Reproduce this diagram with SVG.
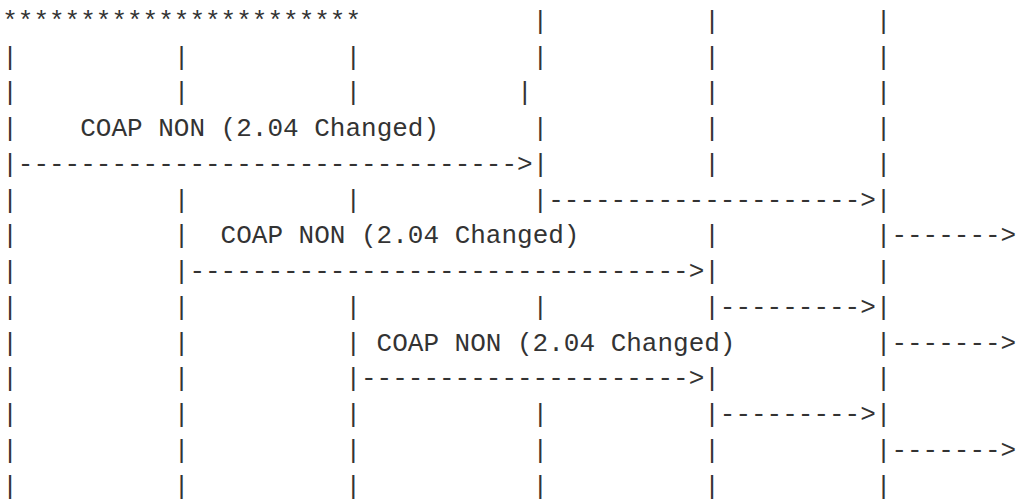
<svg xmlns="http://www.w3.org/2000/svg" width="1021" height="500" viewBox="0 0 1021 500">
<style>
  text { font-family: "Liberation Mono", "DejaVu Sans Mono", monospace; font-size: 26px; fill: #333333; }
</style>
<rect x="0" y="0" width="1021" height="500" fill="#ffffff"/>
<g id="header">
<text y="28.8"><tspan x="2.2">***********************</tspan><tspan x="532.6">|</tspan><tspan x="704.2">|</tspan><tspan x="875.8">|</tspan></text>
</g>
<g id="lifelines-and-messages">
<text y="64.6"><tspan x="2.2">|</tspan><tspan x="173.8">|</tspan><tspan x="345.4">|</tspan><tspan x="532.6">|</tspan><tspan x="704.2">|</tspan><tspan x="875.8">|</tspan></text>
<text y="100.3"><tspan x="2.2">|</tspan><tspan x="173.8">|</tspan><tspan x="345.4">|</tspan><tspan x="517">|</tspan><tspan x="704.2">|</tspan><tspan x="875.8">|</tspan></text>
<text y="136.1"><tspan x="2.2">|</tspan><tspan x="80.2">COAP NON (2.04 Changed)</tspan><tspan x="532.6">|</tspan><tspan x="704.2">|</tspan><tspan x="875.8">|</tspan></text>
<text y="171.8"><tspan x="2.2">|--------------------------------&gt;|</tspan><tspan x="704.2">|</tspan><tspan x="875.8">|</tspan></text>
<text y="207.6"><tspan x="2.2">|</tspan><tspan x="173.8">|</tspan><tspan x="345.4">|</tspan><tspan x="532.6">|--------------------&gt;|</tspan></text>
<text y="243.3"><tspan x="2.2">|</tspan><tspan x="173.8">|</tspan><tspan x="220.6">COAP NON (2.04 Changed)</tspan><tspan x="704.2">|</tspan><tspan x="875.8">|-------&gt;</tspan></text>
<text y="279.1"><tspan x="2.2">|</tspan><tspan x="173.8">|--------------------------------&gt;|</tspan><tspan x="875.8">|</tspan></text>
<text y="314.8"><tspan x="2.2">|</tspan><tspan x="173.8">|</tspan><tspan x="345.4">|</tspan><tspan x="532.6">|</tspan><tspan x="704.2">|---------&gt;|</tspan></text>
<text y="350.6"><tspan x="2.2">|</tspan><tspan x="173.8">|</tspan><tspan x="345.4">|</tspan><tspan x="376.6">COAP NON (2.04 Changed)</tspan><tspan x="875.8">|-------&gt;</tspan></text>
<text y="386.3"><tspan x="2.2">|</tspan><tspan x="173.8">|</tspan><tspan x="345.4">|---------------------&gt;|</tspan><tspan x="875.8">|</tspan></text>
<text y="422.1"><tspan x="2.2">|</tspan><tspan x="173.8">|</tspan><tspan x="345.4">|</tspan><tspan x="532.6">|</tspan><tspan x="704.2">|---------&gt;|</tspan></text>
<text y="457.8"><tspan x="2.2">|</tspan><tspan x="173.8">|</tspan><tspan x="345.4">|</tspan><tspan x="532.6">|</tspan><tspan x="704.2">|</tspan><tspan x="875.8">|-------&gt;</tspan></text>
<text y="493.6"><tspan x="2.2">|</tspan><tspan x="173.8">|</tspan><tspan x="345.4">|</tspan><tspan x="532.6">|</tspan><tspan x="704.2">|</tspan><tspan x="875.8">|</tspan></text>
</g>
</svg>
